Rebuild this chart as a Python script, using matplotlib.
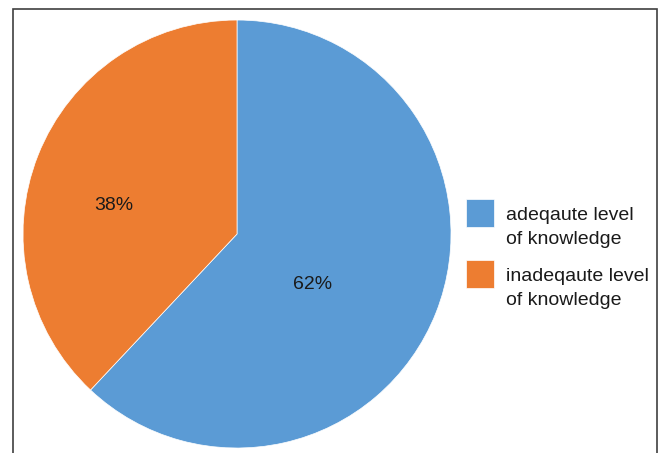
import matplotlib.pyplot as plt
from matplotlib.patches import Rectangle
from matplotlib.legend_handler import HandlerPatch

plt.rcParams['font.family'] = ['Liberation Sans', 'DejaVu Sans']

# Datos
categorias = ['adeqaute level\nof knowledge', 'inadeqaute level\nof knowledge']
porcentajes = [62, 38]
colores = ['#5B9BD5', '#ED7D31']

fig = plt.figure(figsize=(6.59, 4.53), dpi=100)
ax = fig.add_axes([0.0349, 0.011, 0.6495, 0.9448])

wedges, textos, autotextos = ax.pie(porcentajes, colors=colores, startangle=90, counterclock=False,
                                     autopct='%d%%', pctdistance=0.5,
                                     wedgeprops=dict(edgecolor='white', linewidth=0.5),
                                     textprops=dict(fontsize=14, color='#1a1a1a'))
ax.set_xlim(-1, 1)
ax.set_ylim(-1, 1)
ax.set_aspect('auto')

# posicion de las etiquetas de porcentaje
autotextos[0].set_position((0.355, -0.237))
autotextos[1].set_position((-0.575, 0.131))


# cuadrado de la leyenda alineado con la primera linea
def cuadrado(legend, orig_handle, xdescent, ydescent, width, height, fontsize):
    return Rectangle((-xdescent, -ydescent + 0.45 * fontsize), width, width)


leg = ax.legend(wedges, categorias, loc='center left', bbox_to_anchor=(1.016, 0.444),
                frameon=False, fontsize=14, handlelength=1.45, handleheight=1.0,
                handletextpad=0.62, labelspacing=1.06, borderaxespad=0,
                handler_map={wedges[0]: HandlerPatch(patch_func=cuadrado),
                             wedges[1]: HandlerPatch(patch_func=cuadrado)})
for t in leg.get_texts():
    t.set_color('#1a1a1a')
    t.set_linespacing(1.5)

# marco
fig.patches.append(Rectangle((13 / 659, -0.05), (657 - 13) / 659, 1.05 - 9 / 453,
                             transform=fig.transFigure, fill=False, edgecolor='#404040',
                             linewidth=1.2, clip_on=False))

fig.savefig('out.png', dpi=100)
